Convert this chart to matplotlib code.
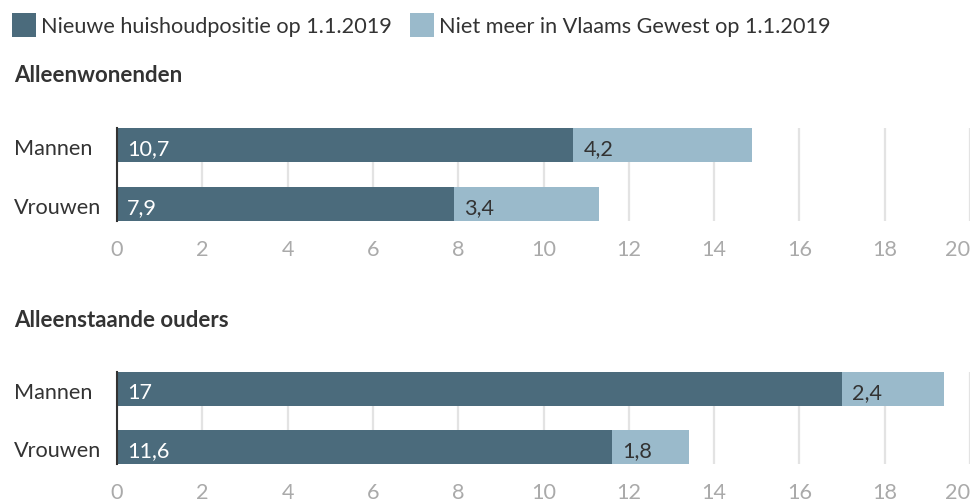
import matplotlib
matplotlib.use("Agg")
import matplotlib.pyplot as plt
from matplotlib.patches import Rectangle
from matplotlib.transforms import offset_copy

plt.rcParams["font.family"] = ["Lato", "DejaVu Sans"]

# data
categories = ["Mannen", "Vrouwen"]
groups = ["Alleenwonenden", "Alleenstaande ouders"]
nieuwe = [[10.7, 7.9], [17.0, 11.6]]
niet_meer = [[4.2, 3.4], [2.4, 1.8]]
series_labels = ["Nieuwe huishoudpositie op 1.1.2019",
                 "Niet meer in Vlaams Gewest op 1.1.2019"]
xticks = [0, 2, 4, 6, 8, 10, 12, 14, 16, 18, 20]

DARK = "#4b6b7c"
LIGHT = "#9abacb"
TXT = "#333333"
TICK = "#aaaaaa"
GRID = "#e3e3e3"
FS = 15.6

W, H = 975, 504
fig = plt.figure(figsize=(W / 100, H / 100), dpi=100)
fig.patch.set_facecolor("white")


def fmt(v):
    if float(v).is_integer():
        return f"{int(v)}"
    return f"{v:.1f}".replace(".", ",")


# legend (drawn in figure pixels)
leg_x = [12, 410]
for x0, lab, col in zip(leg_x, series_labels, [DARK, LIGHT]):
    fig.patches.append(Rectangle((x0 / W, 1 - 37 / H), 24 / W, 24 / H,
                                 transform=fig.transFigure, facecolor=col,
                                 edgecolor="none"))
    fig.text((x0 + 29) / W, 1 - 33 / H, lab, fontsize=FS, color=TXT,
             ha="left", va="baseline")

# panels: (top px, bottom px, title baseline px)
panels = [(128, 221, 82), (372, 464, 327)]
left, right = 117 / W, 970 / W

for gi, (top, bot, ty) in enumerate(panels):
    ax = fig.add_axes([left, 1 - bot / H, right - left, (bot - top) / H])
    y = list(range(len(categories)))
    bh = 0.576
    ax.barh(y, nieuwe[gi], height=bh, color=DARK, zorder=3)
    ax.barh(y, niet_meer[gi], left=nieuwe[gi], height=bh, color=LIGHT, zorder=3)
    ax.set_ylim(1.288, -0.288)
    ax.set_xlim(0, 20)

    # category and value labels
    t_in = offset_copy(ax.transData, fig=fig, x=10, y=-10, units="dots")
    t_cat = offset_copy(ax.transData, fig=fig, x=-103, y=-10, units="dots")
    for yi, (a, b) in enumerate(zip(nieuwe[gi], niet_meer[gi])):
        ax.text(0, yi, categories[yi], color=TXT, fontsize=FS, ha="left",
                va="baseline", transform=t_cat, clip_on=False)
        ax.text(0, yi, fmt(a), color="white", fontsize=FS, ha="left",
                va="baseline", transform=t_in, zorder=4)
        ax.text(a, yi, fmt(b), color=TXT, fontsize=FS, ha="left",
                va="baseline", transform=t_in, zorder=4)

    ax.set_xticks(xticks)
    ax.set_xticklabels([str(t) for t in xticks])
    ax.get_xticklabels()[-1].set_horizontalalignment("right")
    ax.set_yticks([])
    ax.tick_params(axis="x", length=0, pad=14, labelsize=FS, labelcolor=TICK)

    ax.grid(axis="x", color=GRID, linewidth=1.6, zorder=0)
    for s in ["top", "right", "bottom"]:
        ax.spines[s].set_visible(False)
    ax.spines["left"].set_color("#333333")
    ax.spines["left"].set_linewidth(1.5)
    ax.spines["left"].set_zorder(5)
    ax.set_facecolor("none")

    fig.text(14 / W, 1 - ty / H, groups[gi], fontsize=16, fontweight="bold",
             color=TXT, ha="left", va="baseline")

fig.savefig("out.png", dpi=100, facecolor="white")
